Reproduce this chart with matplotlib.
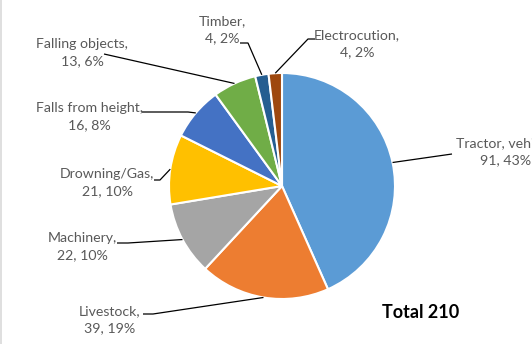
import numpy as np
import matplotlib
matplotlib.use('Agg')
from matplotlib import pyplot as plt

plt.rcParams['font.family'] = ['Lato', 'DejaVu Sans']

# Fatalities by cause
causes = ['Tractor, vehicle', 'Livestock', 'Machinery', 'Drowning/Gas',
          'Falls from height', 'Falling objects', 'Timber', 'Electrocution']
counts = [91, 39, 22, 21, 16, 13, 4, 4]
percents = [43, 19, 10, 10, 8, 6, 2, 2]
total = 210
colors = ['#5B9BD5', '#ED7D31', '#A5A5A5', '#FFC000',
          '#4472C4', '#70AD47', '#255E91', '#9E480E']

W, H = 532, 344
fig = plt.figure(figsize=(W / 100, H / 100), dpi=100)
ax = fig.add_axes([0, 0, 1, 1])
ax.set_xlim(0, W)
ax.set_ylim(0, H)
ax.set_aspect('equal')
ax.axis('off')

cx, cy, r = 282, H - 186, 113
ax.pie(counts, colors=colors, startangle=90, counterclock=False,
       center=(cx, cy), radius=r,
       wedgeprops=dict(edgecolor='white', linewidth=1.5))
ax.set_xlim(0, W)
ax.set_ylim(0, H)

# label centre (x, y from top) and leader path start points
label_pos = [(506, 152), (110, 319.5), (82, 246.5), (107, 183),
             (89, 117), (82, 52.5), (222, 30), (357, 43.5)]
leader_start = [[(452, 154)],
                [(143, 314), (153, 314)],
                [(117, 243), (128, 243)],
                [(154, 180), (160, 180)],
                [(142, 112), (188, 112)],
                [(104, 54)],
                [(240, 43), (248, 43)],
                [(315, 39), (308, 39)]]

cum = np.cumsum([0] + counts)
for i, name in enumerate(causes):
    mid = (cum[i] + cum[i + 1]) / 2 / total * 2 * np.pi
    ax_x = cx + r * np.sin(mid)
    ax_y = cy + r * np.cos(mid)
    pts = [(x, H - y) for x, y in leader_start[i]] + [(ax_x, ax_y)]
    xs, ys = zip(*pts)
    ax.plot(xs, ys, color='black', linewidth=0.9, solid_capstyle='butt')
    lx, ly = label_pos[i]
    ax.text(lx, H - ly, f'{name},\n{counts[i]}, {percents[i]}%',
            ha='center', va='center', multialignment='center',
            fontsize=10.2, color='#595959', linespacing=1.5)

ax.text(421, H - 313, f'Total {total}', ha='center', va='center',
        fontsize=13, fontweight='bold', color='black')

# chart frame edge on the left
fig.add_artist(plt.Line2D([0.5 / W, 0.5 / W], [0, 1], color='#D9D9D9',
                          linewidth=1.2, transform=fig.transFigure))

fig.savefig('out.png', dpi=100, facecolor='white')
